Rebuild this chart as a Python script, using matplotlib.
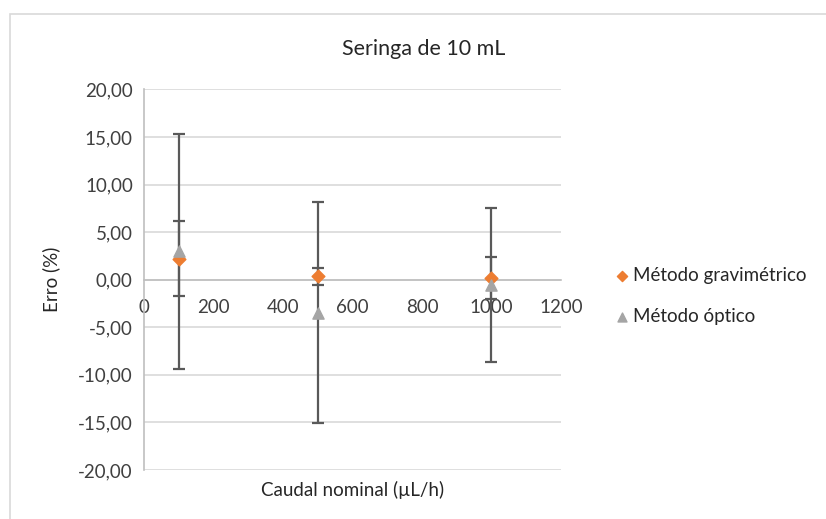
import matplotlib.pyplot as plt
from matplotlib.ticker import FuncFormatter
from matplotlib.patches import Rectangle

plt.rcParams['font.family'] = ['Lato', 'DejaVu Sans']

# dados
caudal = [100, 500, 1000]
grav = [2.2, 0.35, 0.15]
grav_err = [3.95, 0.9, 2.2]
opt = [3.0, -3.45, -0.55]
opt_err = [12.35, 11.6, 8.05]

x_ticks = [0, 200, 400, 600, 800, 1000, 1200]
y_ticks = [-20, -15, -10, -5, 0, 5, 10, 15, 20]

fig = plt.figure(figsize=(8.26, 5.19), dpi=100)
ax = fig.add_axes([0.1743, 0.0944, 0.5048, 0.7332])

# moldura da area do grafico
fig.patches.append(Rectangle((10/826, -0.1), 1.1, 1 - 14/519 + 0.1, transform=fig.transFigure,
                             fill=False, edgecolor='#D9D9D9', linewidth=1.2))

err_style = dict(fmt='none', ecolor='#595959', elinewidth=1.6, capsize=4.5, capthick=1.6, zorder=3)
ax.errorbar(caudal, opt, yerr=opt_err, **err_style)
ax.errorbar(caudal, grav, yerr=grav_err, **err_style)
ax.scatter(caudal, grav, marker='D', s=42, color='#ED7D31', zorder=4, label='Método gravimétrico')
ax.scatter(caudal, opt, marker='^', s=65, color='#A5A5A5', zorder=4, label='Método óptico')

ax.set_xlim(0, 1200)
ax.set_ylim(-20, 20)
ax.set_xticks(x_ticks)
ax.set_yticks(y_ticks)
ax.yaxis.set_major_formatter(FuncFormatter(lambda v, p: f"{v:.2f}".replace('.', ',')))
ax.grid(axis='y', color='#D9D9D9', linewidth=1.2)
ax.set_axisbelow(True)

for s in ['top', 'right']:
    ax.spines[s].set_visible(False)
ax.spines['bottom'].set_position(('data', 0))
ax.spines['bottom'].set_color('#BFBFBF')
ax.spines['bottom'].set_linewidth(1.2)
ax.spines['left'].set_color('#BFBFBF')
ax.spines['left'].set_linewidth(1.2)
ax.tick_params(length=0, labelsize=13.5, colors='#404040', pad=8)
ax.tick_params(axis='x', pad=14)

ax.set_xlabel('Caudal nominal (µL/h)', fontsize=13.5, color='#262626')
ax.xaxis.set_label_coords(0.5, -0.03)
ax.set_ylabel('Erro (%)', fontsize=13.5, color='#262626')
ax.yaxis.set_label_coords(-0.20, 0.5)
fig.text(424/826, 1 - 49/519, 'Seringa de 10 mL', ha='center', va='center', fontsize=15.5, color='#262626')

leg = ax.legend(loc='center left', bbox_to_anchor=(1.125, 0.457), frameon=False, fontsize=13.5,
                handletextpad=0.05, handlelength=1.0, labelspacing=1.25, markerscale=0.8,
                borderpad=0, borderaxespad=0)
for t in leg.get_texts():
    t.set_color('#262626')

plt.savefig('out.png', dpi=100)
